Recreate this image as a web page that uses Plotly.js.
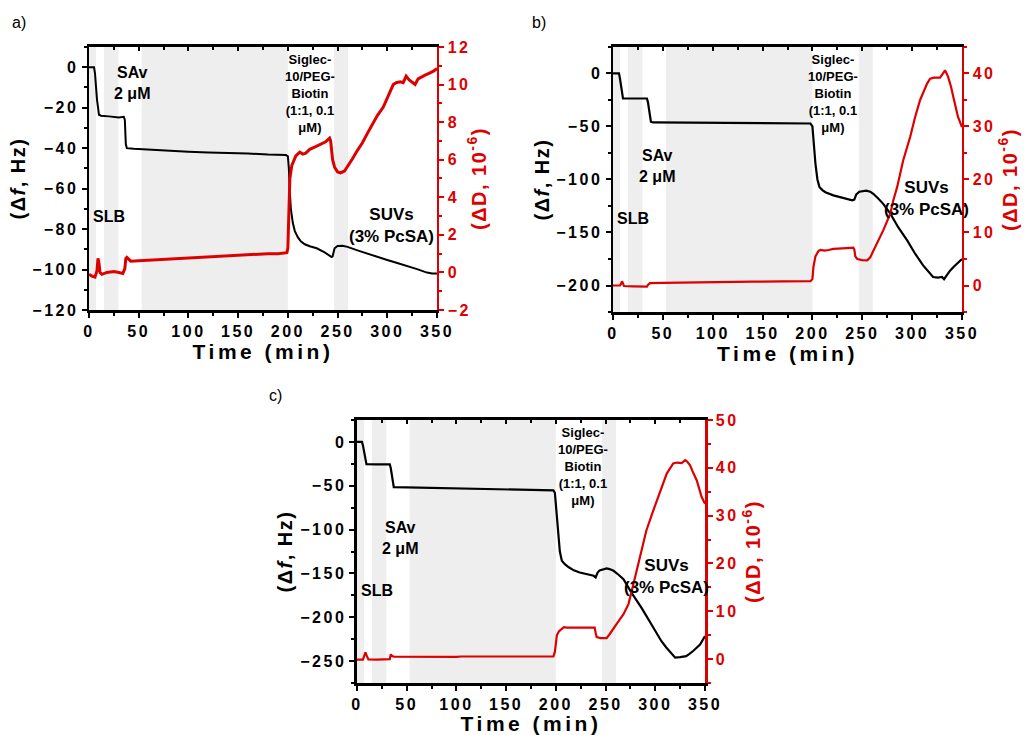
<!DOCTYPE html>
<html>
<head>
<meta charset="utf-8">
<script src="https://cdn.plot.ly/plotly-3.0.1.min.js"></script>
<style>
  html, body { margin: 0; padding: 0; background: #fff; }
  #chart { width: 1027px; height: 735px; }
  /* wide, spaced axis lettering */
  g[class$="tick"] text { letter-spacing: 2.5px; }
  .xtitle, .x2title, .x3title { letter-spacing: 3.5px; }
  .ytitle, .y3title, .y5title { letter-spacing: 1.5px; }
  .y2title, .y4title, .y6title { letter-spacing: 1.5px; }
</style>
</head>
<body>
<div id="chart"></div>
<script>
// ---------- Panel a: frequency shift (Hz) and dissipation shift (1e-6) vs time (min)
const timeA_f = [0,5,6,8,10,12,20,30,35,36,37,38,45,60,80,100,120,140,160,180,198,200,201,202,203,205,207,210,213,217,222,229,237,244,245,247,250,255,260,270,280,290,300,310,320,330,340,345,350];
const dfA     = [0,0,-3,-16,-23.5,-24,-24.3,-24.8,-24.5,-26,-38,-40,-40.3,-40.8,-41.3,-41.8,-42.2,-42.3,-42.6,-43.2,-43.4,-44,-50,-62,-70,-77,-81,-84,-86,-87.5,-88.5,-89.5,-91.5,-93.8,-93.5,-89.5,-88.3,-88.2,-88.8,-90.5,-92.2,-93.8,-95.3,-96.8,-98.2,-99.8,-101.5,-102,-102];
const timeA_D = [0,3,6,8,9,10,11,13,18,25,30,34,36,37,38,42,50,60,70,80,90,100,110,120,130,140,150,160,170,180,190,199,200,201,202,204,206,208,212,215,218,222,228,234,238,242,243,245,247,250,253,257,261,265,270,275,280,285,290,296,300,303,306,309,313,316,319,322,325,328,331,334,338,342,346,350];
const dDA     = [-0.1,-0.2,-0.25,0.1,0.75,0.5,0.0,-0.1,0.0,0.05,0.0,-0.05,0.2,0.75,0.8,0.6,0.62,0.65,0.68,0.72,0.75,0.78,0.82,0.85,0.87,0.9,0.92,0.94,0.97,1.0,1.0,1.05,1.3,3.0,5.0,5.7,6.0,6.2,6.4,6.3,6.35,6.55,6.7,6.85,6.95,7.15,7.0,6.0,5.6,5.35,5.3,5.4,5.7,6.05,6.5,6.9,7.4,7.9,8.35,8.8,9.3,9.7,10.0,10.1,10.15,10.1,10.45,10.25,10.1,10.0,10.3,10.4,10.5,10.6,10.7,10.85];

// ---------- Panel b
const timeB_f = [0,6,7,9,10,20,34,35,37,38,40,80,140,170,198,200,201,203,205,207,210,213,221,234,240,242,244,247,254,258,261,266,271,278,286,295,303,311,316,321,326,330,332,335,338,342,346,350];
const dfB     = [0,0,-5,-18,-23.6,-23.6,-23.6,-27,-40,-45.5,-46.2,-46.3,-46.6,-47.2,-47.2,-50,-62,-85,-100,-107,-110,-112,-115,-118,-119.7,-119,-114,-111.5,-110.5,-111.5,-113.5,-118,-123,-132,-145,-157.5,-170,-181,-187,-192,-192.5,-192,-194,-190,-186,-182,-178,-175];
const timeB_D = [0,7,8,9,10,11,20,34,35,37,50,75,100,140,170,198,200,201,203,206,208,212,216,221,230,241,242,243,245,250,255,258,261,265,271,278,281,285,291,298,303,308,312,315,318,322,328,331,333,336,339,342,346,350];
const dDB     = [0,0,0.3,0.8,0.4,-0.1,-0.15,-0.2,0.1,0.45,0.5,0.6,0.65,0.72,0.78,0.8,1.2,3.5,5.5,6.5,6.7,6.6,6.7,6.9,7.0,7.15,6.8,5.5,5.0,4.8,4.75,5.3,6.5,8.0,10.4,13.5,16,18.6,23.6,28,31.8,35,37,38.1,39,39.2,39.2,40,40.6,39.4,37.5,35,31.8,29.9];

// ---------- Panel c
const timeC_f = [0,5,6,8,9.5,20,33,34,36,37,50,70,104,137,170,197.5,199,200,202,204,206,209,213,218,224,231,238,240,242,244,251,254,258,263,268,276,286,296,306,311,315,320,325,331,334,338,345,350];
const dfC     = [0,0,-4,-18,-25.5,-25.6,-25.6,-30,-48,-51.5,-51.8,-52.3,-53.4,-54.6,-55.2,-55.3,-58,-70,-100,-125,-135.5,-139.5,-143,-146.5,-149,-151,-152.7,-154.6,-149,-146.5,-144.3,-145,-147,-151.5,-156.5,-171.8,-189,-208,-227,-234.5,-240,-246,-245.5,-244.3,-242,-238.5,-231,-221.4];
const timeC_D = [0,6,7,8.5,10,11.5,20,33,34,35,37,60,100,105,150,197.5,199,200,201,203,206,208,211,220,230,239,240,241,245,251,254,258,261,268,273,278,284.7,291,298,305,311.5,318,322,326.5,330,332,335,338,341.6,346.6,350];
const dDC     = [-0.1,-0.1,0.5,1.4,0.6,-0.05,-0.1,0.0,1.0,0.7,0.5,0.45,0.45,0.55,0.55,0.55,1.5,3.5,5.0,5.8,6.3,6.7,6.6,6.6,6.65,6.6,5.5,4.6,4.4,4.4,5.2,6.3,7.3,9.4,11.5,15.7,21.3,26.9,31.1,35.3,38.8,40.9,41.1,41.0,41.6,41.3,40.5,39,37.4,33.9,32.5];

// injection windows shaded in every panel (start, end in min)
const shadeStart = [0, 15, 53, 246.5];
const shadeEnd   = [7, 29.5, 200, 260.5];

// step labels
const stepLabels = ['SAv<br>2 μM', 'SLB', 'Siglec-<br>10/PEG-<br>Biotin<br>(1:1, 0.1<br>μM)', 'SUVs<br>(3% PcSA)'];
const panelLabels = ['a)', 'b)', 'c)'];

const BLACK = '#000000';
const RED = '#dd0000';
const FONT = 'Liberation Sans, Arial, Helvetica, sans-serif';

const traces = [
  {x: timeA_f, y: dfA, xaxis: 'x',  yaxis: 'y',  mode: 'lines', line: {color: BLACK, width: 2}, name: 'Δf a'},
  {x: timeA_D, y: dDA, xaxis: 'x',  yaxis: 'y2', mode: 'lines', line: {color: RED, width: 3}, name: 'ΔD a'},
  {x: timeB_f, y: dfB, xaxis: 'x2', yaxis: 'y3', mode: 'lines', line: {color: BLACK, width: 2.2}, name: 'Δf b'},
  {x: timeB_D, y: dDB, xaxis: 'x2', yaxis: 'y4', mode: 'lines', line: {color: RED, width: 2.2}, name: 'ΔD b'},
  {x: timeC_f, y: dfC, xaxis: 'x3', yaxis: 'y5', mode: 'lines', line: {color: BLACK, width: 2.2}, name: 'Δf c'},
  {x: timeC_D, y: dDC, xaxis: 'x3', yaxis: 'y6', mode: 'lines', line: {color: RED, width: 2.2}, name: 'ΔD c'},
  // empty traces that bring up the inward-ticked top frame axes
  {x: [], y: [], xaxis: 'x4', yaxis: 'y',  mode: 'lines', hoverinfo: 'skip'},
  {x: [], y: [], xaxis: 'x5', yaxis: 'y3', mode: 'lines', hoverinfo: 'skip'},
  {x: [], y: [], xaxis: 'x6', yaxis: 'y5', mode: 'lines', hoverinfo: 'skip'}
];

const tickFont = (c) => ({family: FONT, size: 16, color: c, weight: 'bold'});

function xAxis(domain, anchor) {
  return {
    domain: domain, anchor: anchor, range: [0, 350],
    tickmode: 'linear', tick0: 0, dtick: 50,
    showline: true, linewidth: 2.5, linecolor: BLACK, mirror: true,
    ticks: 'outside', ticklen: 5, tickwidth: 2, tickcolor: BLACK,
    minor: {ticks: 'outside', ticklen: 3, tickwidth: 2, tickcolor: BLACK, tickmode: 'linear', tick0: 0, dtick: 25},
    showgrid: false, zeroline: false,
    tickfont: tickFont(BLACK),
    title: {text: 'Time (min)', font: {family: FONT, size: 21, color: BLACK, weight: 'bold'}, standoff: 5}
  };
}
function topAxis(overlay, anchor) {
  return {
    overlaying: overlay, anchor: anchor, side: 'top', range: [0, 350],
    tickmode: 'linear', tick0: 0, dtick: 50,
    showline: false, showticklabels: false,
    ticks: 'inside', ticklen: 4, tickwidth: 2, tickcolor: BLACK,
    minor: {ticks: 'inside', ticklen: 3, tickwidth: 2, tickcolor: BLACK, tickmode: 'linear', tick0: 0, dtick: 25},
    showgrid: false, zeroline: false
  };
}
function leftAxis(domain, anchor, range, major, minor) {
  return {
    domain: domain, anchor: anchor, range: range,
    tickmode: 'linear', tick0: 0, dtick: major,
    showline: true, linewidth: 2.5, linecolor: BLACK,
    ticks: 'outside', ticklen: 5, tickwidth: 2, tickcolor: BLACK,
    minor: {ticks: 'outside', ticklen: 3, tickwidth: 2, tickcolor: BLACK, tickmode: 'linear', tick0: 0, dtick: minor},
    showgrid: false, zeroline: false,
    tickfont: tickFont(BLACK),
    title: {text: '(Δ<i>f</i>, Hz)', font: {family: FONT, size: 20, color: BLACK, weight: 'bold'}, standoff: 2}
  };
}
function rightAxis(overlay, anchor, range, major, minor) {
  return {
    overlaying: overlay, anchor: anchor, side: 'right', range: range,
    tickmode: 'linear', tick0: 0, dtick: major,
    showline: true, linewidth: 2.5, linecolor: RED,
    ticks: 'outside', ticklen: 5, tickwidth: 2, tickcolor: RED,
    minor: {ticks: 'outside', ticklen: 3, tickwidth: 2, tickcolor: RED, tickmode: 'linear', tick0: 0, dtick: minor},
    showgrid: false, zeroline: false,
    tickfont: tickFont(RED),
    title: {text: '(ΔD, 10<sup>-6</sup>)', font: {family: FONT, size: 20, color: RED, weight: 'bold'}, standoff: 2}
  };
}

const shapes = [];
[['x', 'y'], ['x2', 'y3'], ['x3', 'y5']].forEach(([xr, yr]) => {
  shadeStart.forEach((s, i) => {
    shapes.push({type: 'rect', xref: xr, yref: yr + ' domain', x0: s, x1: shadeEnd[i], y0: 0, y1: 1,
      fillcolor: '#eeeeee', line: {width: 0}, layer: 'below'});
  });
});

const annotations = [];
function stepNotes(xr, yr, pos) {
  const sizes = [16, 16, 13, 17];
  pos.forEach((p, i) => {
    annotations.push({xref: xr, yref: yr, x: p[0], y: p[1], text: stepLabels[i], showarrow: false,
      xanchor: 'center', yanchor: 'middle',
      font: {family: FONT, size: sizes[i], color: BLACK, weight: 'bold'}});
  });
}
stepNotes('x', 'y',  [[43, -8],  [20, -74],   [222, -13],  [304.5, -78]]);
stepNotes('x2', 'y3', [[44, -87], [20.4, -137], [221, -19],  [314.6, -117.5]]);
stepNotes('x3', 'y5', [[43.3, -110], [19.8, -170], [227.6, -28], [311.6, -154]]);

const panelPos = [[10, 23], [530, 23], [267, 395]];
panelLabels.forEach((t, i) => {
  annotations.push({xref: 'paper', yref: 'paper', x: panelPos[i][0] / 1027, y: 1 - panelPos[i][1] / 735,
    xanchor: 'left', yanchor: 'middle', text: t, showarrow: false,
    font: {family: FONT, size: 16, color: BLACK}});
});

const layout = {
  width: 1027, height: 735,
  margin: {l: 0, r: 0, t: 0, b: 0},
  paper_bgcolor: '#ffffff', plot_bgcolor: 'rgba(0,0,0,0)',
  showlegend: false,
  xaxis:  xAxis([0.0867, 0.4255], 'y'),
  xaxis2: xAxis([0.5969, 0.9367], 'y3'),
  xaxis3: xAxis([0.3476, 0.6865], 'y5'),
  xaxis4: topAxis('x', 'y'),
  xaxis5: topAxis('x2', 'y3'),
  xaxis6: topAxis('x3', 'y5'),
  yaxis:  leftAxis([0.5782, 0.9361], 'x', [-120, 10], 20, 10),
  yaxis2: rightAxis('y', 'x', [-2, 12], 2, 1),
  yaxis3: leftAxis([0.5755, 0.9361], 'x2', [-225, 25], 50, 25),
  yaxis4: rightAxis('y3', 'x2', [-5, 45], 10, 5),
  yaxis5: leftAxis([0.0707, 0.4286], 'x3', [-275, 25], 50, 25),
  yaxis6: rightAxis('y5', 'x3', [-5, 50], 10, 5),
  shapes: shapes,
  annotations: annotations
};

Plotly.newPlot('chart', traces, layout, {displayModeBar: false, staticPlot: true});
</script>
</body>
</html>
